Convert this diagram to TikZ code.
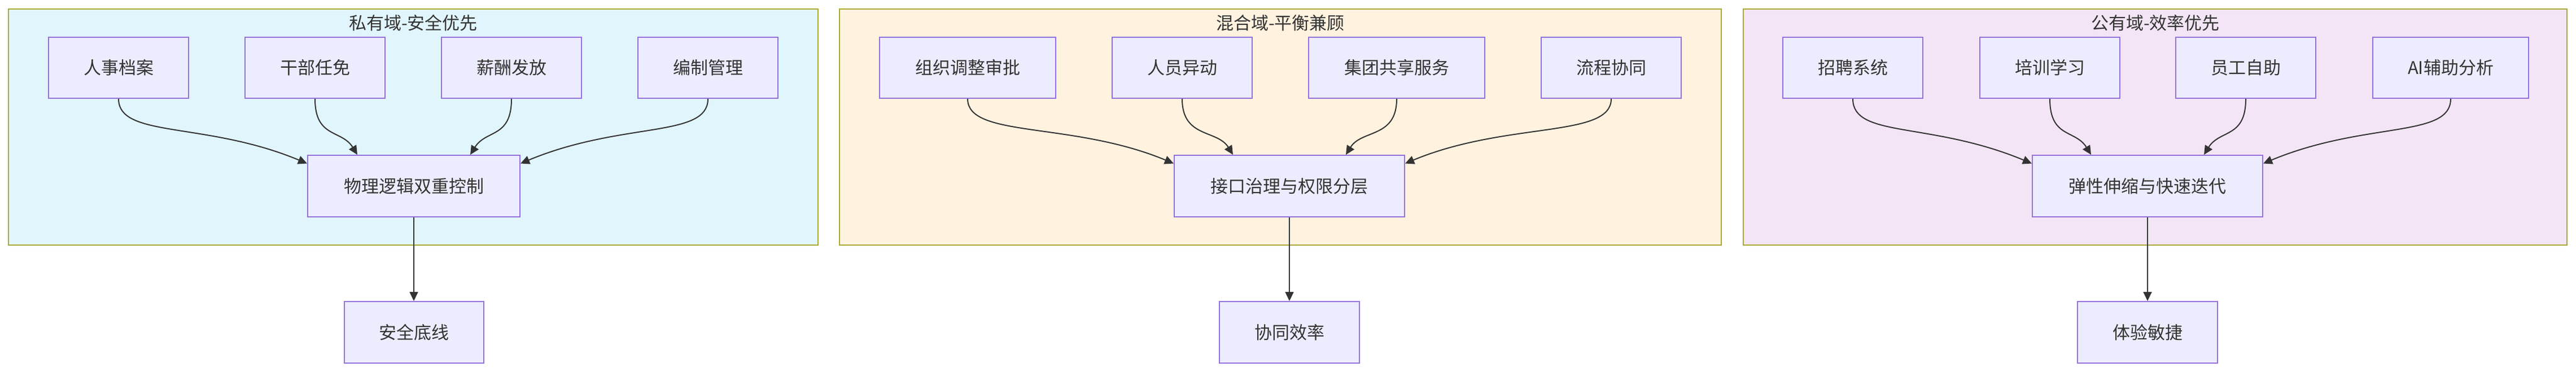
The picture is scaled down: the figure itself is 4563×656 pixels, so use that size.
\documentclass[tikz,border=0pt]{standalone}
\usepackage{fontspec}
\setmainfont{Noto Sans CJK SC}
\usetikzlibrary{arrows.meta}
\definecolor{nfill}{HTML}{ECECFF}
\definecolor{nline}{HTML}{9370DB}
\definecolor{cline}{HTML}{AAAA33}
\definecolor{txt}{HTML}{333333}
\definecolor{cA}{HTML}{E1F5FD}
\definecolor{cB}{HTML}{FFF2DF}
\definecolor{cC}{HTML}{F3E5F5}
\begin{document}
\begin{tikzpicture}[x=1pt,y=-1pt,
  box/.style={draw=nline,fill=nfill,line width=2pt,text=txt,font=\fontsize{31}{36}\selectfont,inner sep=0pt},
  clus/.style={draw=cline,line width=2.5pt},
  ttl/.style={text=txt,font=\fontsize{31}{36}\selectfont},
  arr/.style={draw=txt,line width=2pt,-{Triangle[length=16pt,width=15pt]}}]
\useasboundingbox (0,0) rectangle (4563,656);
% clusters
\path[clus,fill=cA] (15,16) rectangle (1449,434);
\path[clus,fill=cB] (1487,16) rectangle (3049,434);
\path[clus,fill=cC] (3088,16) rectangle (4547,434);
\node[ttl] (t1) at (732,41) {私有域-安全优先};
\node[ttl] (t2) at (2268,41) {混合域-平衡兼顾};
\node[ttl] (t3) at (3818,41) {公有域-效率优先};
% cluster 1
\node[box,minimum width=248pt,minimum height=108pt] (a1) at (210,120) {人事档案};
\node[box,minimum width=248pt,minimum height=108pt] (a2) at (558,120) {干部任免};
\node[box,minimum width=248pt,minimum height=108pt] (a3) at (906,120) {薪酬发放};
\node[box,minimum width=248pt,minimum height=108pt] (a4) at (1254,120) {编制管理};
\node[box,minimum width=376pt,minimum height=109pt] (am) at (733,329.5) {物理逻辑双重控制};
\node[box,minimum width=247pt,minimum height=109pt] (ab) at (733,588.5) {安全底线};
% cluster 2
\node[box,minimum width=312pt,minimum height=108pt] (b1) at (1714,120) {组织调整审批};
\node[box,minimum width=248pt,minimum height=108pt] (b2) at (2094,120) {人员异动};
\node[box,minimum width=312pt,minimum height=108pt] (b3) at (2474,120) {集团共享服务};
\node[box,minimum width=248pt,minimum height=108pt] (b4) at (2854,120) {流程协同};
\node[box,minimum width=408pt,minimum height=109pt] (bm) at (2284,329.5) {接口治理与权限分层};
\node[box,minimum width=248pt,minimum height=109pt] (bb) at (2284,588.5) {协同效率};
% cluster 3
\node[box,minimum width=248pt,minimum height=108pt] (c1) at (3282,120) {招聘系统};
\node[box,minimum width=248pt,minimum height=108pt] (c2) at (3631,120) {培训学习};
\node[box,minimum width=248pt,minimum height=108pt] (c3) at (3978,120) {员工自助};
\node[box,minimum width=276pt,minimum height=108pt] (c4) at (4341,120) {AI辅助分析};
\node[box,minimum width=408pt,minimum height=109pt] (cm) at (3804,329.5) {弹性伸缩与快速迭代};
\node[box,minimum width=248pt,minimum height=109pt] (cb) at (3804,588.5) {体验敏捷};
% edges
\foreach \p in {a,b,c}{
  \draw[arr] (\p1.south) .. controls +(0,70) and +(-180,-75) .. ([yshift=40pt]\p m.west);
  \draw[arr] (\p2.south) .. controls +(0,70) and +(-28,-45) .. ([xshift=-100pt]\p m.north);
  \draw[arr] (\p3.south) .. controls +(0,70) and +(28,-45) .. ([xshift=100pt]\p m.north);
  \draw[arr] (\p4.south) .. controls +(0,70) and +(180,-75) .. ([yshift=40pt]\p m.east);
  \draw[arr,line width=1.5pt] (\p m.south) -- (\p b.north);
}
\end{tikzpicture}
\end{document}
